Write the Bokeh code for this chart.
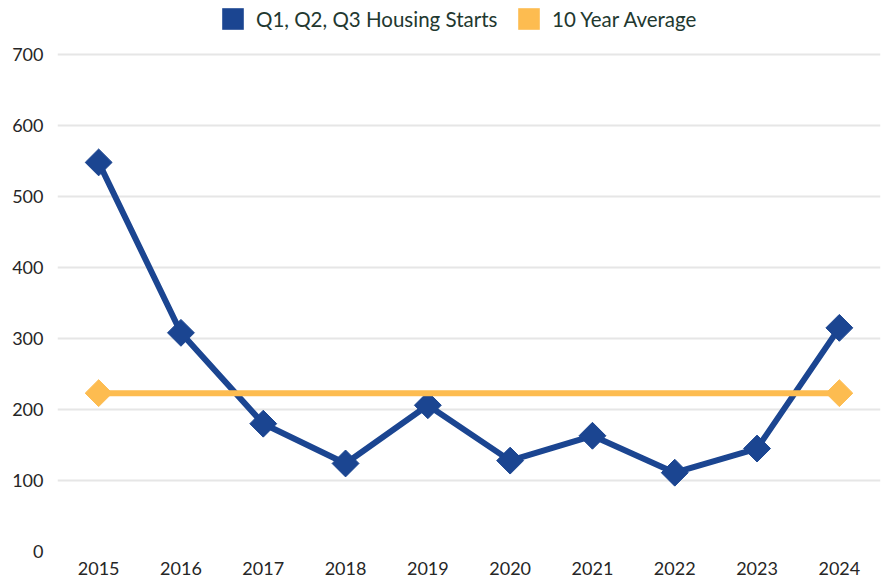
import numpy as np
from bokeh.plotting import figure
from bokeh.models import Range1d, FixedTicker, Legend, LegendItem, ColumnDataSource
from bokeh.embed import file_html
from bokeh.resources import INLINE

years = [2015, 2016, 2017, 2018, 2019, 2020, 2021, 2022, 2023, 2024]
housing_starts = [548, 308, 180, 124, 206, 128, 163, 111, 145, 315]
ten_year_avg = [223, 223, 223, 223, 223, 223, 223, 223, 223, 223]
y_ticks = [0, 100, 200, 300, 400, 500, 600, 700]

BLUE = "#1b4591"
ORANGE = "#fdbc50"
FONT = "Lato"

W, H = 883, 584
BOTTOM, LEFT, RIGHT = 33, 57, 3
FRAME_H = H - BOTTOM          # frame spans from the very top to the x-axis
TOP_PAD = 54                  # headroom above the 700 gridline for the legend
y_end = 700 * FRAME_H / (FRAME_H - TOP_PAD)

p = figure(width=W, height=H, output_backend="svg", toolbar_location=None,
           x_range=Range1d(2014.5, 2024.5), y_range=Range1d(0, y_end),
           min_border_left=LEFT, min_border_right=RIGHT, min_border_top=0,
           min_border_bottom=BOTTOM)
p.outline_line_color = None
p.background_fill_color = "white"
p.border_fill_color = "white"

for ax in (p.xaxis[0], p.yaxis[0]):
    ax.axis_line_color = None
    ax.major_tick_line_color = None
    ax.minor_tick_line_color = None
    ax.major_tick_out = 0
    ax.minor_tick_out = 0
    ax.major_label_text_font = FONT
    ax.major_label_text_font_size = "18px"
    ax.major_label_text_color = "#262626"
p.xaxis[0].ticker = FixedTicker(ticks=years)
p.yaxis[0].ticker = FixedTicker(ticks=y_ticks)
p.xaxis[0].major_label_standoff = 10
p.yaxis[0].major_label_standoff = 14

p.xgrid.grid_line_color = None
p.ygrid.grid_line_color = "#e6e6e6"
p.ygrid.grid_line_width = 2

src = ColumnDataSource(dict(x=years, y=housing_starts, avg=ten_year_avg))
p.line("x", "y", source=src, line_color=BLUE, line_width=6)
p.scatter("x", "y", source=src, marker="square", angle=np.pi / 4, size=19,
          fill_color=BLUE, line_color=BLUE)

p.line("x", "avg", source=src, line_color=ORANGE, line_width=6)
ends = ColumnDataSource(dict(x=[years[0], years[-1]], y=[ten_year_avg[0], ten_year_avg[-1]]))
p.scatter("x", "y", source=ends, marker="square", angle=np.pi / 4, size=19,
          fill_color=ORANGE, line_color=ORANGE)

# zero-area quads used only as square legend swatches
lb = p.quad(left="x", right="x", top="y", bottom="y", source=src,
            fill_color=BLUE, line_color=None)
lo = p.quad(left="x", right="x", top="avg", bottom="avg", source=src,
            fill_color=ORANGE, line_color=None)


def make_legend(label, r, x_fig):
    lg = Legend(items=[LegendItem(label=label, renderers=[r])],
                location=(x_fig - LEFT, FRAME_H - 32),
                orientation="horizontal", padding=0, margin=0, spacing=0,
                glyph_width=27, glyph_height=27, label_standoff=10,
                border_line_color=None, background_fill_alpha=0,
                label_text_font=FONT, label_text_font_size="20.5px",
                label_text_color="#22382f", label_height=27)
    p.add_layout(lg, "center")


make_legend("Q1, Q2, Q3 Housing Starts", lb, 219)
make_legend("10 Year Average", lo, 515)

open("out.html", "w").write(file_html(p, INLINE))
